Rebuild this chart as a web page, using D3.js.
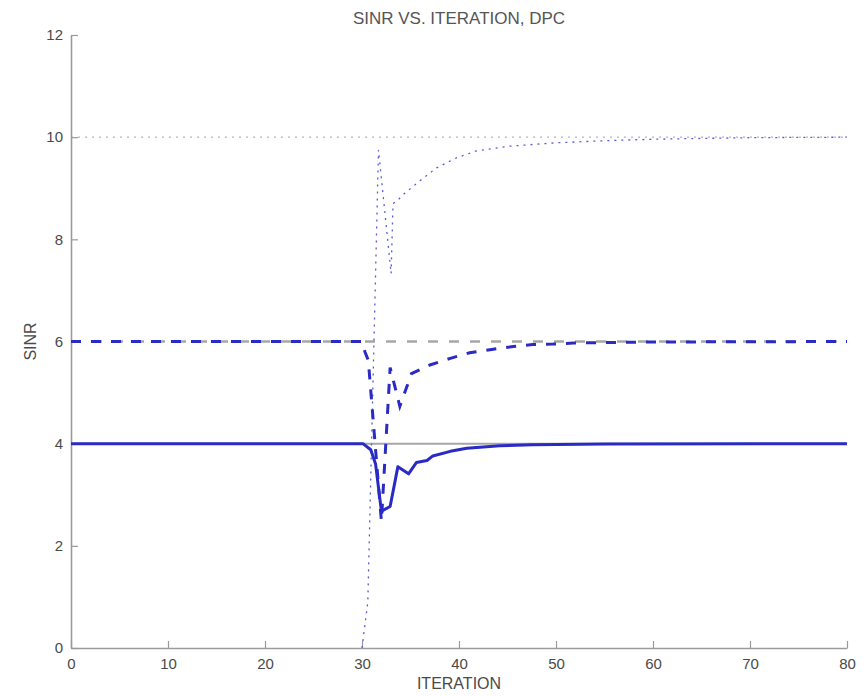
<!DOCTYPE html>
<html>
<head>
<meta charset="utf-8">
<script src="https://cdn.jsdelivr.net/npm/d3@7"></script>
<style>
  html, body { margin: 0; padding: 0; background: #fff; }
  svg { display: block; font-family: "Liberation Sans", Arial, sans-serif; }
</style>
</head>
<body>
<svg id="chart" width="865" height="696"></svg>
<script>
// ---- data ----
const xTicks = [0, 10, 20, 30, 40, 50, 60, 70, 80];
const yTicks = [0, 2, 4, 6, 8, 10, 12];
const targetSolid = 4;
const targetDashed = 6;
const targetDotted = 10;

const iterSolid = [0, 30.1, 30.9, 31.4, 32.0, 32.9, 33.7, 34.8, 35.6, 36.7, 37.3, 39.1, 40.8, 44.2, 47.6, 55, 80];
const sinrSolid = [4, 4, 3.88, 3.6, 2.68, 2.77, 3.55, 3.41, 3.63, 3.67, 3.76, 3.85, 3.91, 3.96, 3.98, 3.995, 4];

const iterDashed = [0, 30.0, 30.3, 30.65, 32.0, 32.9, 33.9, 35.1, 37.0, 39.1, 41.1, 43.2, 45.6, 47.6, 49.7, 51.8, 60, 80];
const sinrDashed = [6, 6, 5.8, 5.63, 2.48, 5.49, 4.73, 5.37, 5.54, 5.67, 5.78, 5.84, 5.9, 5.94, 5.95, 5.97, 5.99, 6];

const iterDotted = [30.0, 30.6, 31.7, 33.0, 33.2, 33.7, 34.4, 36.0, 37.7, 39.8, 41.8, 45, 50, 55, 60, 70, 80];
const sinrDotted = [0, 0.9, 9.75, 7.33, 8.7, 8.77, 8.9, 9.15, 9.4, 9.6, 9.73, 9.82, 9.89, 9.93, 9.96, 9.99, 10];

// ---- drawing ----
const svg = d3.select("#chart");
const x = d3.scaleLinear().domain([0, 80]).range([71, 847]);
const y = d3.scaleLinear().domain([0, 12]).range([648, 35]);

const blue = "#2a2ac4";
const grey = "#a6a6a6";

const line = d3.line().x(d => x(d[0])).y(d => y(d[1]));
const zip = (a, b) => a.map((v, i) => [v, b[i]]);

// target (reference) lines in grey
svg.append("path").attr("d", line([[0, targetSolid], [80, targetSolid]]))
  .attr("fill", "none").attr("stroke", grey).attr("stroke-width", 2);
svg.append("path").attr("d", line([[0, targetDashed], [80, targetDashed]]))
  .attr("fill", "none").attr("stroke", grey).attr("stroke-width", 2.5)
  .attr("stroke-dasharray", "10,11");
svg.append("path").attr("d", line([[0, targetDotted], [80, targetDotted]]))
  .attr("fill", "none").attr("stroke", "#b4b4c4").attr("stroke-width", 1.3)
  .attr("stroke-dasharray", "2,5");

// axes
const yAxis = d3.axisLeft(y).tickValues(yTicks).tickSizeInner(-7).tickSizeOuter(0).tickPadding(8);
const xAxis = d3.axisBottom(x).tickValues(xTicks).tickSizeInner(-7).tickSizeOuter(0).tickPadding(10);

const gy = svg.append("g").attr("transform", `translate(${x(0)},0)`).call(yAxis);
const gx = svg.append("g").attr("transform", `translate(0,${y(0)})`).call(xAxis);
[gx, gy].forEach(g => {
  g.select(".domain").attr("stroke", "#9a9a9a").attr("stroke-width", 1.6);
  g.selectAll(".tick line").attr("stroke", "#9a9a9a").attr("stroke-width", 1.2);
  g.selectAll(".tick text").attr("fill", "#4a4a4a").attr("font-size", 15)
    .attr("font-family", "Liberation Sans, Arial, sans-serif");
});

// series
svg.append("path").attr("d", line(zip(iterDotted, sinrDotted)))
  .attr("fill", "none").attr("stroke", "#5a5ad8").attr("stroke-width", 1.3)
  .attr("stroke-dasharray", "2,5");
svg.append("path").attr("d", line(zip(iterDashed, sinrDashed)))
  .attr("fill", "none").attr("stroke", blue).attr("stroke-width", 3)
  .attr("stroke-dasharray", "10,10");
svg.append("path").attr("d", line(zip(iterSolid, sinrSolid)))
  .attr("fill", "none").attr("stroke", blue).attr("stroke-width", 3)
  .attr("stroke-linejoin", "round");

// titles
svg.append("text").attr("x", 459).attr("y", 24).attr("text-anchor", "middle")
  .attr("font-size", 17).attr("fill", "#555").text("SINR VS. ITERATION, DPC");
svg.append("text").attr("x", 459).attr("y", 689).attr("text-anchor", "middle")
  .attr("font-size", 16).attr("fill", "#4a4a4a").text("ITERATION");
svg.append("text").attr("transform", `translate(36,${(y(0) + y(12)) / 2}) rotate(-90)`)
  .attr("text-anchor", "middle").attr("font-size", 16).attr("fill", "#4a4a4a").text("SINR");
</script>
</body>
</html>
